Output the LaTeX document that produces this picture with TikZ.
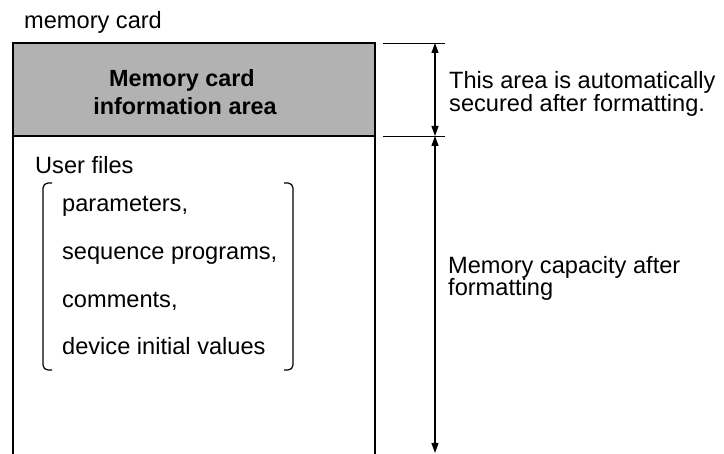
\documentclass[tikz,border=0pt]{standalone}
\usepackage{fontspec}
\setmainfont{Liberation Sans}
\usetikzlibrary{arrows.meta}
\begin{document}
\begin{tikzpicture}[x=1pt,y=-1pt,
  txt/.style={anchor=base west,inner sep=0pt,font=\fontsize{23.6}{23}\selectfont},
  ptxt/.style={anchor=north west,inner sep=0pt,align=left},
  btxt/.style={anchor=base,inner sep=0pt,font=\fontsize{23.4}{23}\selectfont\bfseries},
  boxline/.style={line width=1.3pt},
  dimline/.style={line width=0.9pt},
  dimarrow/.style={line width=1.1pt,{Triangle[length=10pt,width=7pt]}-{Triangle[length=10pt,width=7pt]}},
  brk/.style={line width=1.2pt,rounded corners=5pt}]
\useasboundingbox (0,0) rectangle (724,454);
% card
\coordinate (tl) at (13,43);
\coordinate (tr) at (375,43);
\coordinate (ml) at (13,136);
\coordinate (mr) at (375,136);
\coordinate (bl) at (13,455);
\coordinate (br) at (375,455);
\fill[black!30] (tl) rectangle (mr);
\draw[boxline] (bl) -- (tl) -- (tr) -- (br);
\draw[boxline] (ml) -- (mr);
\node[txt] (title) at (24,29) {memory card};
\node[btxt] (info1) at (182,87) {Memory card};
\node[btxt] (info2) at (185,115) {information area};
\node[txt] (user) at (35,174) {User files};
\node[txt] (p1) at (62,212) {parameters,};
\node[txt] (p2) at (62,260) {sequence programs,};
\node[txt] (p3) at (62,308) {comments,};
\node[txt] (p4) at (62,355) {device initial values};
% brackets
\draw[brk] (52,183) -- (43,183) -- (43,370) -- (52,370);
\draw[brk] (284,183) -- (293,183) -- (293,370) -- (284,370);
% dimension lines
\coordinate (d1a) at (383,43);
\coordinate (d1b) at (445,43);
\coordinate (d2a) at (383,136);
\coordinate (d2b) at (445,136);
\draw[dimline] (d1a) -- (d1b);
\draw[dimline] (d2a) -- (d2b);
\coordinate (a1) at (435,43);
\coordinate (a2) at (435,136);
\coordinate (a3) at (435,453);
\draw[dimarrow] (a1) -- (a2);
\draw[dimarrow] (a2) -- (a3);
\node[ptxt,font=\fontsize{23.6}{19.5}\selectfont] (r1) at (449,71) {This area is automatically\\secured after formatting.};
\node[ptxt,font=\fontsize{23.6}{22}\selectfont] (r3) at (448,256) {Memory capacity after\\formatting};
\end{tikzpicture}
\end{document}
